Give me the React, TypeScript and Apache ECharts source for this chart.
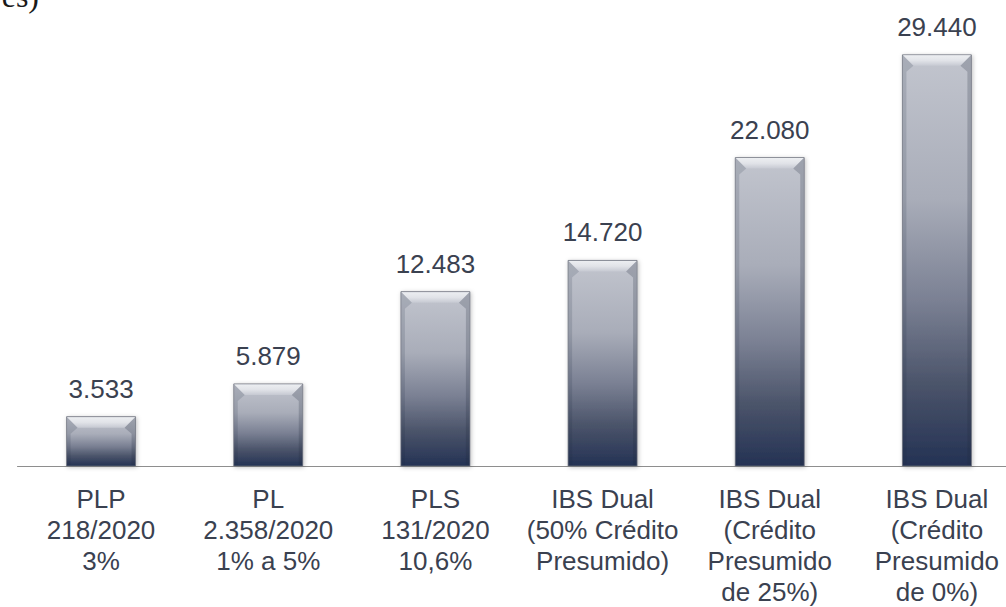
import React, { useEffect, useRef } from "react";
import * as echarts from "echarts";

const categories = [
  "PLP\n218/2020\n3%",
  "PL\n2.358/2020\n1% a 5%",
  "PLS\n131/2020\n10,6%",
  "IBS Dual\n(50% Crédito\nPresumido)",
  "IBS Dual\n(Crédito\nPresumido\nde 25%)",
  "IBS Dual\n(Crédito\nPresumido\nde 0%)",
];
const values = [3533, 5879, 12483, 14720, 22080, 29440];
const titleFragment = "es)";

const fmt = (n: number) => String(n).replace(/\B(?=(\d{3})+(?!\d))/g, ".");

const FONT = '"Liberation Sans", Arial, sans-serif';
const TEXT = "#3a4150";

export default function App() {
  const ref = useRef<HTMLDivElement>(null);
  useEffect(() => {
    const chart = echarts.init(ref.current!, undefined, { renderer: "svg" });
    const barW = 69;
    chart.setOption({
      animation: false,
      grid: { left: 17.5, right: 9.5, top: 47, bottom: 137 },
      xAxis: {
        type: "category",
        data: categories,
        axisLine: { lineStyle: { color: "#8e8e8e", width: 1 } },
        axisTick: { length: 8, lineStyle: { color: "#8e8e8e" } },
        axisLabel: {
          interval: 0,
          fontSize: 26,
          lineHeight: 31,
          margin: 17,
          color: TEXT,
          fontFamily: FONT,
        },
      },
      yAxis: { type: "value", min: 0, max: 30000, show: false },
      graphic: [
        {
          type: "text",
          x: 39,
          y: 12,
          style: {
            text: titleFragment,
            fontSize: 32,
            fontFamily: '"Liberation Serif", "Times New Roman", serif',
            fill: "#1a1a1a",
            align: "right",
            textAlign: "right",
            verticalAlign: "bottom",
            textVerticalAlign: "bottom",
          },
        },
      ],
      series: [
        {
          type: "custom",
          data: values.map((v, i) => [i, v]),
          encode: { x: 0, y: 1 },
          renderItem: (params: any, api: any) => {
            const idx = api.value(0);
            const v = api.value(1);
            const top = api.coord([idx, v]);
            const bot = api.coord([idx, 0]);
            const x0 = top[0] - barW / 2;
            const x1 = x0 + barW;
            const y0 = top[1];
            const yb = bot[1];
            const h = yb - y0;
            const bt = 11;
            const bs = 11;
            return {
              type: "group",
              children: [
                {
                  type: "rect",
                  shape: { x: x0, y: y0, width: barW, height: h },
                  style: {
                    fill: new echarts.graphic.LinearGradient(0, 0, 0, 1, [
                      { offset: 0, color: "#c2c5ce" },
                      { offset: 0.35, color: "#a9adb9" },
                      { offset: 0.6, color: "#7a8093" },
                      { offset: 0.8, color: "#4b546a" },
                      { offset: 1, color: "#243254" },
                    ]),
                    stroke: "rgba(105,110,122,0.75)",
                    lineWidth: 1,
                    shadowBlur: 4,
                    shadowColor: "rgba(0,0,0,0.25)",
                    shadowOffsetX: 1,
                    shadowOffsetY: 1,
                  },
                },
                {
                  type: "polygon",
                  shape: {
                    points: [
                      [x0 + 0.5, y0 + 0.5],
                      [x1 - 0.5, y0 + 0.5],
                      [x1 - bs, y0 + bt],
                      [x0 + bs, y0 + bt],
                    ],
                  },
                  style: {
                    fill: new echarts.graphic.LinearGradient(0, 0, 0, 1, [
                      { offset: 0, color: "#eceef1" },
                      { offset: 0.5, color: "#e1e3e8" },
                      { offset: 1, color: "#c6c9d2" },
                    ]),
                  },
                },
                {
                  type: "polygon",
                  shape: {
                    points: [
                      [x0 + 0.5, y0 + 0.5],
                      [x0 + bs, y0 + bt],
                      [x0 + 4, y0 + bt + 6],
                      [x0 + 4, yb - 1],
                      [x0 + 0.5, yb - 1],
                    ],
                  },
                  style: { fill: "rgba(30,40,60,0.15)" },
                },
                {
                  type: "polygon",
                  shape: {
                    points: [
                      [x1 - 0.5, y0 + 0.5],
                      [x1 - bs, y0 + bt],
                      [x1 - 4, y0 + bt + 6],
                      [x1 - 4, yb - 1],
                      [x1 - 0.5, yb - 1],
                    ],
                  },
                  style: { fill: "rgba(30,40,60,0.22)" },
                },
                {
                  type: "text",
                  x: top[0],
                  y: y0 - 15,
                  style: {
                    text: fmt(v),
                    fontSize: 26,
                    fontFamily: FONT,
                    fill: TEXT,
                    align: "center",
                    textAlign: "center",
                    verticalAlign: "bottom",
                    textVerticalAlign: "bottom",
                  },
                },
              ],
            };
          },
        },
      ],
    });
    return () => chart.dispose();
  }, []);
  return (
    <div
      style={{
        position: "fixed",
        left: 0,
        top: 0,
        width: 1006,
        height: 607,
        overflow: "hidden",
        background: "#fff",
      }}
    >
      <div ref={ref} style={{ width: 1030, height: 607 }} />
    </div>
  );
}
